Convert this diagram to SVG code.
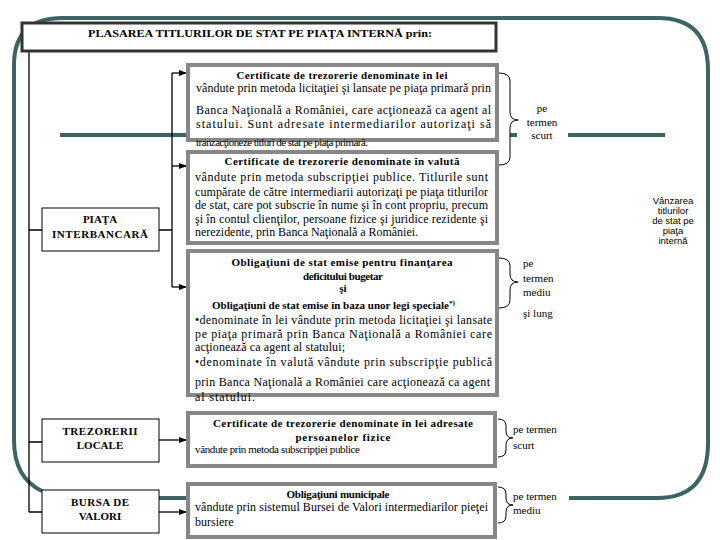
<svg xmlns="http://www.w3.org/2000/svg" width="720" height="540" viewBox="0 0 720 540">
<style>
.frame{fill:none;stroke:#3e6363;stroke-width:4}
.box{fill:#ffffff;stroke:#878787;stroke-width:4}
.lbox{fill:#ffffff;stroke:#000000;stroke-width:1}
.hdr{fill:#ffffff;stroke:#333333;stroke-width:3}
.conn{fill:none;stroke:#000000;stroke-width:1.3}
.brace{fill:none;stroke:#000000;stroke-width:1}
.b{font-weight:bold}
.c{text-anchor:middle}
</style>
<defs>
<marker id="ah" viewBox="0 0 8 8" refX="8" refY="4" markerWidth="8" markerHeight="8" orient="auto" markerUnits="userSpaceOnUse">
<path d="M0,1 L8,4 L0,7 z" fill="#000000"/>
</marker>
</defs>
<rect width="720" height="540" fill="#ffffff"/>
<g id="frame">
<path class="frame" fill="none" d="M42,491 Q14,478 14,440 V65 Q14,18 63,18 H658 Q708,18 708,70 V443 Q708,498 657,498 H569"/>
<path class="frame" fill="none" d="M159,498 H186"/>
<path class="frame" fill="none" d="M60,135 H186 M510,135 H517 M568,135 H665"/>
</g>
<g id="connectors">
<path class="conn" fill="none" d="M29,52 V512 M29,230 H42 M29,442 H42 M29,512 H42 M159,230 H172 M172,73 V287"/>
<path class="conn" d="M172,73 H187" marker-end="url(#ah)"/>
<path class="conn" d="M172,166 H187" marker-end="url(#ah)"/>
<path class="conn" d="M172,287 H187" marker-end="url(#ah)"/>
<path class="conn" d="M159,440 H187" marker-end="url(#ah)"/>
<path class="conn" d="M159,512 H187" marker-end="url(#ah)"/>
</g>
<g font-family="'Liberation Serif', 'Times New Roman', serif" font-size="12" fill="#000000">
<g id="header">
<rect class="hdr" fill="#ffffff" x="22" y="23" width="474" height="28"/>
<text class="b c" font-size="11" x="260" y="37" textLength="344" lengthAdjust="spacingAndGlyphs">PLASAREA TITLURILOR DE STAT PE PIAŢA INTERNĂ prin:</text>
</g>
<g id="piata" font-size="11">
<rect class="lbox" fill="#ffffff" x="42" y="208" width="117" height="43"/>
<text class="b c" x="100" y="223">PIAŢA</text>
<text class="b c" x="100" y="238" textLength="96">INTERBANCARĂ</text>
</g>
<g id="trezorerii" font-size="11">
<rect class="lbox" fill="#ffffff" x="42" y="419" width="117" height="43"/>
<text class="b c" x="100" y="435" textLength="75">TREZORERII</text>
<text class="b c" x="100" y="449">LOCALE</text>
</g>
<g id="bursa" font-size="11">
<rect class="lbox" fill="#ffffff" x="42" y="490" width="117" height="43"/>
<text class="b c" x="100" y="506" textLength="58">BURSA DE</text>
<text class="b c" x="100" y="520">VALORI</text>
</g>
<g id="box1">
<rect class="box" fill="#ffffff" x="188" y="65" width="309" height="75"/>
<text class="b c" font-size="11" x="342" y="79" textLength="211">Certificate de trezorerie denominate în lei</text>
<text x="196" y="92" textLength="295">vândute prin metoda licitaţiei şi lansate pe piaţa primară prin</text>
<text x="196" y="114" textLength="295">Banca Naţională a României, care acţionează ca agent al</text>
<text x="196" y="128" textLength="295">statului. Sunt adresate intermediarilor autorizaţi să</text>
<text x="196" y="146" font-size="11" textLength="172">tranzacţioneze titluri de stat pe piaţa primară.</text>
</g>
<g id="box2">
<rect class="box" fill="#ffffff" x="188" y="152" width="309" height="91"/>
<text class="b c" font-size="11" x="342" y="165" textLength="235">Certificate de trezorerie denominate în valută</text>
<text x="195" y="181" textLength="293">vândute prin metoda subscripţiei publice. Titlurile sunt</text>
<text x="195" y="196" textLength="293">cumpărate de către intermediarii autorizaţi pe piaţa titlurilor</text>
<text x="195" y="209" textLength="293">de stat, care pot subscrie în nume şi în cont propriu, precum</text>
<text x="195" y="223" textLength="293">şi în contul clienţilor, persoane fizice şi juridice rezidente şi</text>
<text x="195" y="236" textLength="223">nerezidente, prin Banca Naţională a României.</text>
</g>
<g id="box3">
<rect class="box" fill="#ffffff" x="188" y="251" width="309" height="144"/>
<text class="b c" font-size="11" x="342" y="266" textLength="221">Obligaţiuni de stat emise pentru finanţarea</text>
<text class="b c" font-size="11" x="343" y="280" textLength="80">deficitului bugetar</text>
<text class="b c" font-size="11" x="343" y="292">şi</text>
<text class="b" font-size="11" x="212" y="309">Obligaţiuni de stat emise în baza unor legi speciale<tspan font-size="7" dy="-4">*)</tspan></text>
<text x="195" y="324" textLength="297">•denominate în lei vândute prin metoda licitaţiei şi lansate</text>
<text x="195" y="338" textLength="297">pe piaţa primară prin Banca Naţională a României care</text>
<text x="195" y="351" textLength="150">acţionează ca agent al statului;</text>
<text x="195" y="366" textLength="297">•denominate în valută vândute prin subscripţie publică</text>
<text x="195" y="386" textLength="295">prin Banca Naţională a României care acţionează ca agent</text>
<text x="195" y="401" textLength="60">al statului.</text>
</g>
<g id="box4">
<rect class="box" fill="#ffffff" x="188" y="413" width="307" height="53"/>
<text class="b c" font-size="11" x="343" y="427" textLength="260">Certificate de trezorerie denominate în lei adresate</text>
<text class="b c" font-size="11" x="343" y="441" textLength="95">persoanelor fizice</text>
<text x="195" y="453" font-size="11" textLength="165">vândute prin metoda subscripţiei publice</text>
</g>
<g id="box5">
<rect class="box" fill="#ffffff" x="188" y="484" width="307" height="53"/>
<text class="b c" font-size="11" x="338" y="498" textLength="103">Obligaţiuni municipale</text>
<text x="195" y="511" textLength="293">vândute prin sistemul Bursei de Valori intermediarilor pieţei</text>
<text x="195" y="526">bursiere</text>
</g>
<g id="braces">
<path class="brace" fill="none" d="M499,73 Q510,73 510,81 V112 Q510,120 518,120 Q510,120 510,128 V157 Q510,165 499,165"/>
<path class="brace" fill="none" d="M499,258 Q510,258 510,266 V274 Q510,282 518,282 Q510,282 510,290 V300 Q510,308 499,308"/>
<path class="brace" fill="none" d="M498,419 Q506,419 506,426 V431 Q506,438 513,438 Q506,438 506,445 V450 Q506,457 498,457"/>
<path class="brace" fill="none" d="M498,487 Q506,487 506,494 V498 Q506,505 513,505 Q506,505 506,512 V516 Q506,523 498,523"/>
</g>
<g id="labels" font-size="11">
<text class="c" x="542" y="112">pe</text>
<text class="c" x="542" y="126">termen</text>
<text class="c" x="542" y="139">scurt</text>
<text x="523" y="267">pe</text>
<text x="523" y="282">termen</text>
<text x="523" y="296">mediu</text>
<text x="523" y="317">şi lung</text>
<text x="513" y="433">pe termen</text>
<text x="513" y="449">scurt</text>
<text x="513" y="500">pe termen</text>
<text x="513" y="514">mediu</text>
</g>
<g id="side" font-family="'Liberation Sans', Arial, sans-serif" font-size="9.5">
<text class="c" x="673" y="204">Vânzarea</text>
<text class="c" x="673" y="214">titlurilor</text>
<text class="c" x="673" y="224">de stat pe</text>
<text class="c" x="673" y="234">piaţa</text>
<text class="c" x="673" y="244">internă</text>
</g>
</g>
</svg>
